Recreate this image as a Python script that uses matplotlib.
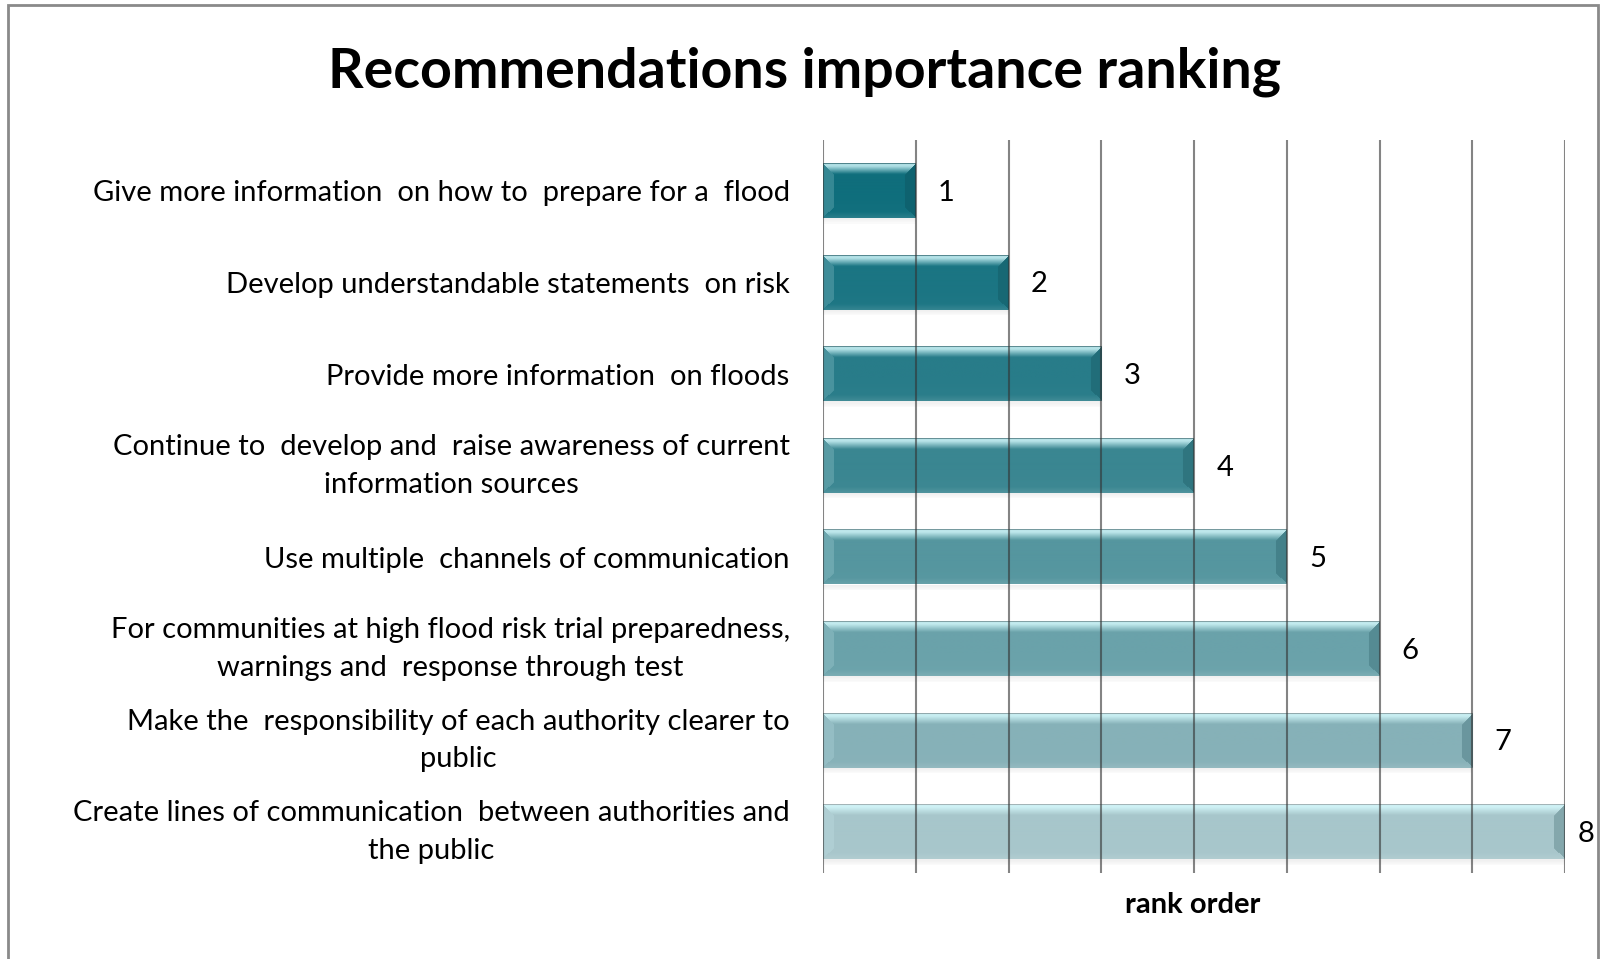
import matplotlib
matplotlib.use("Agg")
import matplotlib.pyplot as plt
import matplotlib.colors as mcolors
from matplotlib.patches import Rectangle
import numpy as np

categories = [
    "Give more information  on how to  prepare for a  flood",
    "Develop understandable statements  on risk",
    "Provide more information  on floods",
    "Continue to  develop and  raise awareness of current\ninformation sources",
    "Use multiple  channels of communication",
    "For communities at high flood risk trial preparedness,\nwarnings and  response through test",
    "Make the  responsibility of each authority clearer to\npublic",
    "Create lines of communication  between authorities and\nthe public",
]
ranks = [1, 2, 3, 4, 5, 6, 7, 8]
bar_colors = ["#0f6e7c", "#1b7583", "#287c89", "#3a8691",
              "#55969f", "#6aa2aa", "#86b1b8", "#a7c6cb"]
title = "Recommendations importance ranking"
xlabel = "rank order"

plt.rcParams["font.family"] = ["Lato", "DejaVu Sans"]

fig = plt.figure(figsize=(16.05, 9.59), dpi=100)
ax = fig.add_axes([823/1605, 1-873/959, (1565-823)/1605, (873-140)/959])

n = len(categories)
ypos = np.arange(n)
h = 0.59
shift = 0.055

ax.set_xlim(0, 8)
ax.set_ylim(n - 0.5 - shift, -0.5 - shift)


def rgb(c):
    return np.array(mcolors.to_rgb(c))


def blend(c, other, t):
    return rgb(c) * (1 - t) + rgb(other) * t


# soft shadow under bars
for k in range(5):
    ax.barh(ypos + h/2 + 0.008 + k*0.012, ranks, height=0.012, color="#000000",
            alpha=0.06 - k*0.01, zorder=1, linewidth=0)

bars = ax.barh(ypos, ranks, height=h, color=bar_colors, zorder=2, linewidth=0)

# bevel shading image clipped to each bar
fig.canvas.draw()
px_per_x = ax.transData.transform((1, 0))[0] - ax.transData.transform((0, 0))[0]
px_per_y = abs(ax.transData.transform((0, 1))[1] - ax.transData.transform((0, 0))[1])
for bar, r, c in zip(bars, ranks, bar_colors):
    W = max(int(round(r * px_per_x)), 2)
    H = max(int(round(h * px_per_y)), 2)
    yy, xx = np.mgrid[0:H, 0:W] + 0.5
    dt, db, dl, dr = yy, H - yy, xx, W - xx
    dmin = np.minimum.reduce([dt, db, dl, dr])
    base = rgb(c)
    light = blend(c, "#d8fcff", 0.8)
    img = np.tile(base, (H, W, 1))
    b = 11.0
    frac = (yy / H)[..., None]
    g = 0.10 * np.clip((frac - 0.6) / 0.4, 0, 1)
    img = img * (1 - g) + blend(c, "#ffffff", 0.2) * g
    top = (dt == dmin) & (dt < b)
    t = np.clip(1 - (dt - 3) / (b - 3), 0, 1)[..., None]
    img = np.where(top[..., None], img * (1 - t) + light * t, img)
    topline = dt < 1.2
    img = np.where(topline[..., None], blend(c, "#a0a0a0", 0.45), img)
    bot = (db == dmin) & (db < 6) & ~top
    tb = (1 - db / 6)[..., None] * 0.35
    img = np.where(bot[..., None], img * (1 - tb) + blend(c, "#ffffff", 0.3) * tb, img)
    left = (dl == dmin) & (dl < b) & ~top & ~bot
    img = np.where(left[..., None], blend(c, "#d0f0f4", 0.2), img)
    right = (dr == dmin) & (dr < b) & ~top & ~bot
    img = np.where(right[..., None], blend(c, "#0b3a42", 0.22), img)
    ax.imshow(img, extent=(0, r, bar.get_y() + h, bar.get_y()), aspect="auto",
              interpolation="bilinear", zorder=3, clip_on=True)

ax.set_xlim(0, 8)
ax.set_ylim(n - 0.5 - shift, -0.5 - shift)

ax.set_xticks(np.arange(0, 9))
ax.xaxis.grid(True, color="#333333", linewidth=1.5, alpha=0.6)
ax.xaxis.set_zorder(5)
ax.yaxis.set_zorder(5)
ax.tick_params(axis="x", length=0, labelbottom=False)
ax.tick_params(axis="y", length=0, pad=24)
for s in ax.spines.values():
    s.set_visible(False)

ax.set_yticks(ypos)
ax.set_yticklabels(categories, fontsize=21, multialignment="center",
                   linespacing=1.55)
for lab in ax.get_yticklabels():
    if "\n" in lab.get_text():
        lab.set_va("center")

for y, r in zip(ypos, ranks):
    ax.text(min(r + 0.24, 8.14), y + 0.02, str(r), va="center", ha="left",
            fontsize=21, clip_on=False)

fig.text(805/1605, 1-72/959, title, ha="center", va="center",
         fontsize=40, fontweight="bold")
fig.text(1193/1605, 1-905/959, xlabel, ha="center", va="center",
         fontsize=21, fontweight="bold")

fig.patches.append(Rectangle((8/1605, -0.05), (1598-8)/1605, 1.05-5/959,
                             transform=fig.transFigure, fill=False,
                             edgecolor="#8a8a8a", linewidth=2))

fig.savefig("out.png", dpi=100)
